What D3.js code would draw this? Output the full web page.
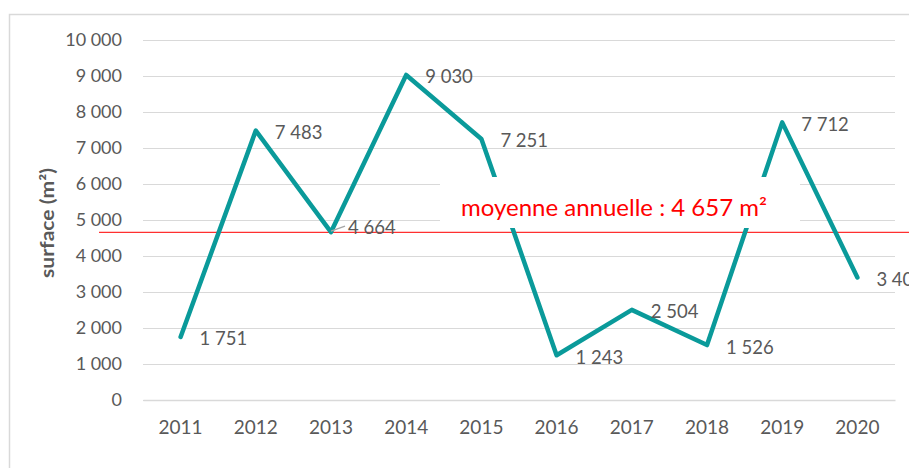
<!DOCTYPE html>
<html>
<head>
<meta charset="utf-8">
<script src="https://cdn.jsdelivr.net/npm/d3@7"></script>
<style>
  html, body { margin: 0; padding: 0; background: #fff; }
  svg { display: block; }
</style>
</head>
<body>
<svg id="chart" width="909" height="468"></svg>
<script>
// Surface par année (m²)
const years = ["2011", "2012", "2013", "2014", "2015", "2016", "2017", "2018", "2019", "2020"];
const surfaces = [1751, 7483, 4664, 9030, 7251, 1243, 2504, 1526, 7712, 3403];
const yTicks = [0, 1000, 2000, 3000, 4000, 5000, 6000, 7000, 8000, 9000, 10000];
const meanLabel = "moyenne annuelle : 4 657 m²";
const meanValue = 4657;

const svg = d3.select("#chart");
const font = "Lato, 'Open Sans', sans-serif";
const grey = "#595959";
const teal = "#0a9a9a";

const plot = { left: 143, right: 895, top: 40, bottom: 400 };

const x = d3.scaleBand().domain(years).range([plot.left, plot.right]);
const y = d3.scaleLinear().domain([0, 10000]).range([plot.bottom, plot.top]);
const fmt = v => d3.format(",")(v).replace(/,/g, " ");

// chart frame
svg.append("path")
  .attr("d", "M9.5,468 V14.5 H909")
  .attr("fill", "none").attr("stroke", "#d9d9d9").attr("stroke-width", 1.5);

// gridlines + value axis
const yAxis = d3.axisLeft(y).tickValues(yTicks).tickSize(-(plot.right - plot.left)).tickFormat(fmt).tickPadding(21);
const gy = svg.append("g").attr("transform", `translate(${plot.left},0)`).call(yAxis);
gy.select(".domain").remove();
gy.selectAll(".tick line").attr("stroke", "#d9d9d9").attr("stroke-width", 1);
gy.selectAll(".tick text").attr("fill", grey).style("font-family", font).style("font-size", "18px");

// category axis
const xAxis = d3.axisBottom(x).tickSize(0).tickPadding(21);
const gx = svg.append("g").attr("transform", `translate(0,${plot.bottom})`).call(xAxis);
gx.select(".domain").attr("stroke", "#d9d9d9").attr("stroke-width", 1.5);
gx.selectAll(".tick text").attr("fill", grey).style("font-family", font).style("font-size", "19px");

// axis title
svg.append("text")
  .attr("transform", `translate(48,223) rotate(-90)`)
  .attr("text-anchor", "middle")
  .attr("dy", "0.35em")
  .attr("fill", grey)
  .attr("textLength", 110)
  .attr("lengthAdjust", "spacingAndGlyphs")
  .style("font-family", font).style("font-size", "18px").style("font-weight", "bold")
  .text("surface (m²)");

// mean line
svg.append("line")
  .attr("x1", 99).attr("x2", 909)
  .attr("y1", y(meanValue)).attr("y2", y(meanValue))
  .attr("stroke", "#ff3030").attr("stroke-width", 1.2);

// series line
const pts = years.map((yr, i) => ({ yr, v: surfaces[i] }));
const cx = d => x(d.yr) + x.bandwidth() / 2;
svg.append("path")
  .datum(pts)
  .attr("fill", "none")
  .attr("stroke", teal)
  .attr("stroke-width", 4.5)
  .attr("stroke-linejoin", "round")
  .attr("stroke-linecap", "round")
  .attr("d", d3.line().x(cx).y(d => y(d.v)));

// leader line for the 2013 label
const p13 = pts[2];
svg.append("line")
  .attr("x1", cx(p13)).attr("y1", y(p13.v) - 1)
  .attr("x2", cx(p13) + 14).attr("y2", y(p13.v) - 6)
  .attr("stroke", "#a6a6a6").attr("stroke-width", 1.5);

// data labels
svg.append("g").selectAll("text")
  .data(pts)
  .join("text")
  .attr("x", (d, i) => cx(d) + (i === 2 ? 17 : 19))
  .attr("y", (d, i) => y(d.v) + (i === 2 ? -5 : 2))
  .attr("dy", "0.35em")
  .attr("fill", grey)
  .style("font-family", font).style("font-size", "18.5px")
  .text(d => fmt(d.v));

// mean annotation box
svg.append("rect")
  .attr("x", 440).attr("y", 177).attr("width", 360).attr("height", 51)
  .attr("fill", "#fff");
svg.append("text")
  .attr("x", 614).attr("y", 208)
  .attr("dy", "0.35em")
  .attr("text-anchor", "middle")
  .attr("fill", "#ff0000")
  .style("font-family", font).style("font-size", "24px")
  .text(meanLabel);
</script>
</body>
</html>
